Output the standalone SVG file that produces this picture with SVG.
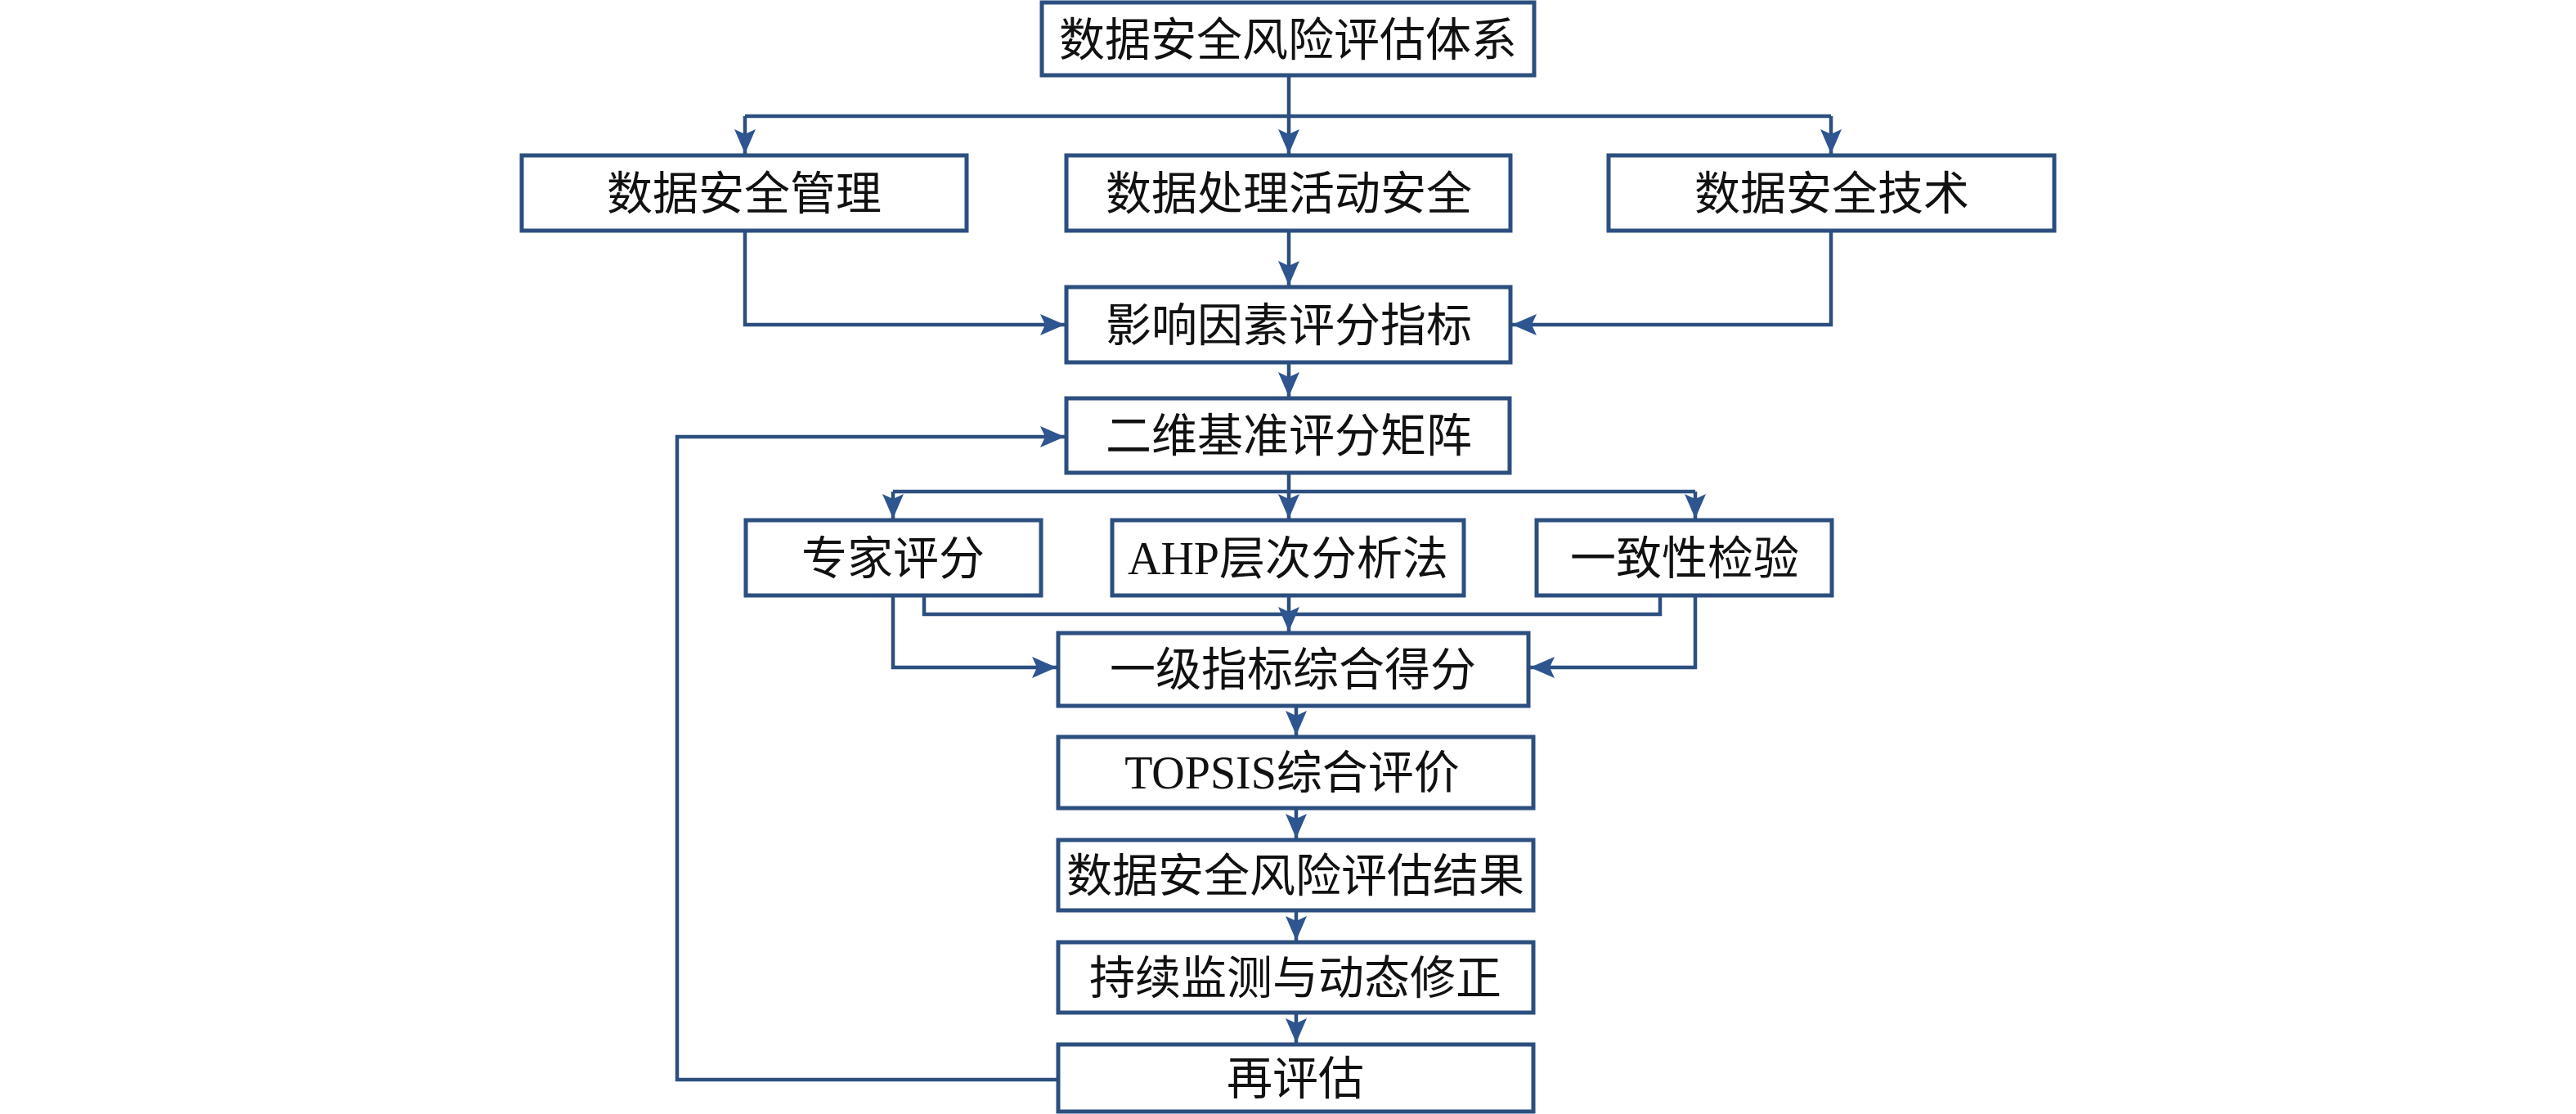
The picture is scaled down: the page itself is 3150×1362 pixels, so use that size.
<svg xmlns="http://www.w3.org/2000/svg" width="3150" height="1362" viewBox="0 0 3150 1362">
<defs>
<style>
.box{fill:#ffffff;stroke:#2c4f80;stroke-width:5}
.lbl{font-family:"Liberation Serif","Noto Sans CJK SC",serif;font-size:56px;fill:#111111;text-anchor:middle}
.ln{fill:none;stroke:#2c4f80;stroke-width:4.5;stroke-linejoin:miter}
.arr{marker-end:url(#ah)}
</style>
<marker id="ah" markerUnits="userSpaceOnUse" markerWidth="32" markerHeight="26" viewBox="0 0 32 26" refX="30" refY="13" orient="auto">
<path d="M0,0 L30,13 L0,26 L6,13 Z" fill="#2e5590"/>
</marker>
</defs>
<rect width="3150" height="1362" fill="#ffffff"/>
<g id="connectors">
<path class="ln arr" d="M1576,92 V188"/>
<path class="ln" d="M911,142 H2239"/>
<path class="ln arr" d="M911,142 V188"/>
<path class="ln arr" d="M2239,142 V188"/>
<path class="ln arr" d="M911,282 V397 H1302"/>
<path class="ln arr" d="M2239,282 V397 H1849"/>
<path class="ln arr" d="M1576,282 V349"/>
<path class="ln arr" d="M1576,443 V485"/>
<path class="ln arr" d="M1576,578 V634"/>
<path class="ln" d="M1092,601 H2073"/>
<path class="ln arr" d="M1092,601 V634"/>
<path class="ln arr" d="M2073,601 V634"/>
<path class="ln" d="M1130,728 V751 H2030 V728"/>
<path class="ln arr" d="M1576,728 V772"/>
<path class="ln arr" d="M1092,728 V816 H1292"/>
<path class="ln arr" d="M2073,728 V816 H1871"/>
<path class="ln arr" d="M1585,864 V899"/>
<path class="ln arr" d="M1585,988 V1025"/>
<path class="ln arr" d="M1585,1113 V1150"/>
<path class="ln arr" d="M1585,1238 V1275"/>
<path class="ln arr" d="M1294,1320 H828 V534 H1302"/>
</g>
<g id="n1"><rect class="box" x="1274" y="3" width="602" height="89"/><text class="lbl" x="1575" y="68">数据安全风险评估体系</text></g>
<g id="n2"><rect class="box" x="638" y="190" width="544" height="92"/><text class="lbl" x="910" y="256">数据安全管理</text></g>
<g id="n3"><rect class="box" x="1304" y="190" width="543" height="92"/><text class="lbl" x="1576" y="256">数据处理活动安全</text></g>
<g id="n4"><rect class="box" x="1967" y="190" width="545" height="92"/><text class="lbl" x="2240" y="256">数据安全技术</text></g>
<g id="n5"><rect class="box" x="1304" y="351" width="543" height="92"/><text class="lbl" x="1576" y="417">影响因素评分指标</text></g>
<g id="n6"><rect class="box" x="1304" y="487" width="542" height="91"/><text class="lbl" x="1576" y="552">二维基准评分矩阵</text></g>
<g id="n7"><rect class="box" x="912" y="636" width="361" height="92"/><text class="lbl" x="1092" y="702">专家评分</text></g>
<g id="n8"><rect class="box" x="1360" y="636" width="430" height="92"/><text class="lbl" x="1575" y="702">AHP层次分析法</text></g>
<g id="n9"><rect class="box" x="1879" y="636" width="361" height="92"/><text class="lbl" x="2060" y="702">一致性检验</text></g>
<g id="n10"><rect class="box" x="1294" y="774" width="575" height="89"/><text class="lbl" x="1581" y="838">一级指标综合得分</text></g>
<g id="n11"><rect class="box" x="1294" y="901" width="581" height="87"/><text class="lbl" x="1580" y="964">TOPSIS综合评价</text></g>
<g id="n12"><rect class="box" x="1294" y="1027" width="581" height="86"/><text class="lbl" x="1584" y="1090">数据安全风险评估结果</text></g>
<g id="n13"><rect class="box" x="1294" y="1152" width="581" height="86"/><text class="lbl" x="1584" y="1215">持续监测与动态修正</text></g>
<g id="n14"><rect class="box" x="1294" y="1277" width="581" height="82"/><text class="lbl" x="1584" y="1338">再评估</text></g>
</svg>
